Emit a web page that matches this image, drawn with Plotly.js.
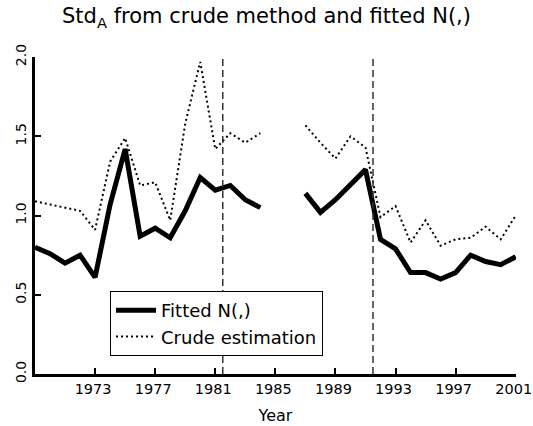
<!DOCTYPE html>
<html>
<head>
<meta charset="utf-8">
<script src="https://cdn.plot.ly/plotly-3.0.1.min.js"></script>
<style>html,body{margin:0;padding:0;background:#fff;}#chart{width:533px;height:426px;}</style>
</head>
<body>
<div id="chart"></div>
<script>
var years = [1969,1970,1971,1972,1973,1974,1975,1976,1977,1978,1979,1980,1981,1982,1983,1984,1985,1986,1987,1988,1989,1990,1991,1992,1993,1994,1995,1996,1997,1998,1999,2000,2001];
var fitted = [0.80,0.76,0.70,0.75,0.61,1.07,1.42,0.87,0.92,0.86,1.03,1.24,1.16,1.19,1.10,1.05,null,null,1.14,1.02,1.10,1.20,1.29,0.85,0.79,0.64,0.64,0.60,0.64,0.75,0.71,0.69,0.74];
var crude = [1.09,1.07,1.05,1.03,0.91,1.34,1.49,1.19,1.21,0.97,1.58,1.97,1.42,1.52,1.46,1.52,null,null,1.57,1.46,1.36,1.50,1.43,0.99,1.06,0.83,0.97,0.81,0.85,0.86,0.93,0.85,1.00];
var breakYears = [1981.5, 1991.5];
var xTickVals = [1973,1977,1981,1985,1989,1993,1997,2001];
var yTickVals = [0.0,0.5,1.0,1.5,2.0];
var yTickText = ['0.0','0.5','1.0','1.5','2.0'];

var FONT = 'DejaVu Sans, sans-serif';

var traces = [
  {x: years, y: fitted, name: 'Fitted N(,)', type: 'scatter', mode: 'lines',
   connectgaps: false, line: {color: '#000', width: 5}},
  {x: years, y: crude, name: 'Crude estimation', type: 'scatter', mode: 'lines',
   connectgaps: false, line: {color: '#000', width: 2, dash: '2px,3px'}}
];

var shapes = breakYears.map(function (b) {
  return {type: 'line', xref: 'x', yref: 'y', x0: b, x1: b, y0: 0, y1: 2,
          line: {color: '#333', width: 1.5, dash: '7px,4px'}};
});

var layout = {
  width: 533, height: 426,
  margin: {l: 35, r: 17, t: 57, b: 52},
  paper_bgcolor: '#fff', plot_bgcolor: '#fff',
  font: {family: FONT, color: '#000', size: 15},
  title: {text: 'Std<sub>A</sub> from crude method and fitted N(,)',
          font: {family: FONT, size: 21, color: '#000'},
          x: 0.5, xanchor: 'center', yref: 'container', y: 0.963, yanchor: 'middle'},
  xaxis: {range: [1969, 2001.02], tickvals: xTickVals, ticks: 'inside', ticklen: 6, tickwidth: 2,
          tickcolor: '#000', showline: true, linewidth: 3, linecolor: '#000',
          showgrid: false, zeroline: false, tickfont: {family: FONT, size: 14.5},
          ticklabeloverflow: 'allow', ticklabelshift: -2,
          title: {text: 'Year', font: {family: FONT, size: 16}, standoff: 14}},
  yaxis: {range: [0, 2.001], tickvals: yTickVals, ticktext: yTickText, ticks: 'inside', ticklen: 6,
          tickwidth: 2, tickcolor: '#000', showline: true, linewidth: 3, linecolor: '#000',
          showgrid: false, zeroline: false, tickangle: -90, tickfont: {family: FONT, size: 14}},
  shapes: shapes,
  showlegend: true,
  legend: {x: 0.156, y: 0.262, xanchor: 'left', yanchor: 'top', bgcolor: '#fff',
           bordercolor: '#000', borderwidth: 1, font: {family: FONT, size: 18, color: '#000'},
           itemwidth: 40, tracegroupgap: 0}
};

Plotly.newPlot('chart', traces, layout, {displayModeBar: false, staticPlot: true});
</script>
</body>
</html>
